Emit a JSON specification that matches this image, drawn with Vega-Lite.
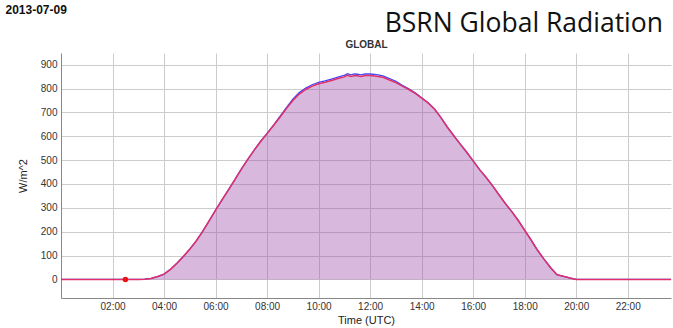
{
  "$schema": "https://vega.github.io/schema/vega-lite/v6.json",
  "width": 610,
  "height": 245,
  "autosize": "none",
  "padding": {"left": 61, "top": 53, "right": 2, "bottom": 30},
  "background": "white",
  "view": {"stroke": null},
  "config": {
    "font": "Liberation Sans",
    "axis": {"labelFont": "Liberation Sans", "titleFont": "Liberation Sans"}
  },
  "title": {
    "text": "BSRN Global Radiation",
    "anchor": "end",
    "frame": "group",
    "font": "Open Sans",
    "fontSize": 26.5,
    "fontWeight": "normal",
    "color": "#111",
    "dx": -8,
    "dy": 38,
    "offset": 4
  },
  "datasets": {
    "radiation": [
      {"h": 0, "red": 0, "blue": 0},
      {"h": 0.5, "red": 0, "blue": 0},
      {"h": 1, "red": 0, "blue": 0},
      {"h": 1.5, "red": 0, "blue": 0},
      {"h": 2, "red": 0, "blue": 0},
      {"h": 2.5, "red": 0, "blue": 0},
      {"h": 3, "red": 0, "blue": 0},
      {"h": 3.25, "red": 1, "blue": 1},
      {"h": 3.5, "red": 4, "blue": 4},
      {"h": 3.75, "red": 12, "blue": 12},
      {"h": 4.0, "red": 22, "blue": 22},
      {"h": 4.25, "red": 42, "blue": 42},
      {"h": 4.5, "red": 68, "blue": 68},
      {"h": 4.75, "red": 96, "blue": 96},
      {"h": 5.0, "red": 127, "blue": 127},
      {"h": 5.25, "red": 161, "blue": 161},
      {"h": 5.5, "red": 201, "blue": 201},
      {"h": 5.75, "red": 245, "blue": 245},
      {"h": 6.0, "red": 290, "blue": 290},
      {"h": 6.25, "red": 333, "blue": 333},
      {"h": 6.5, "red": 375, "blue": 375},
      {"h": 6.75, "red": 418, "blue": 418},
      {"h": 7.0, "red": 462, "blue": 462},
      {"h": 7.25, "red": 503, "blue": 503},
      {"h": 7.5, "red": 542, "blue": 542},
      {"h": 7.75, "red": 578, "blue": 579},
      {"h": 8.0, "red": 611, "blue": 612},
      {"h": 8.25, "red": 645, "blue": 647},
      {"h": 8.5, "red": 680, "blue": 683},
      {"h": 8.75, "red": 716, "blue": 720},
      {"h": 9.0, "red": 750, "blue": 755},
      {"h": 9.25, "red": 777, "blue": 783},
      {"h": 9.5, "red": 796, "blue": 802},
      {"h": 9.75, "red": 810, "blue": 816},
      {"h": 10.0, "red": 820, "blue": 826},
      {"h": 10.25, "red": 826, "blue": 832},
      {"h": 10.5, "red": 834, "blue": 840},
      {"h": 10.75, "red": 842, "blue": 848},
      {"h": 11.0, "red": 849, "blue": 855},
      {"h": 11.12, "red": 856, "blue": 862},
      {"h": 11.25, "red": 851, "blue": 857},
      {"h": 11.4, "red": 855, "blue": 861},
      {"h": 11.5, "red": 854, "blue": 860},
      {"h": 11.65, "red": 851, "blue": 857},
      {"h": 11.8, "red": 855, "blue": 861},
      {"h": 12.0, "red": 855, "blue": 861},
      {"h": 12.25, "red": 852, "blue": 858},
      {"h": 12.5, "red": 847, "blue": 853},
      {"h": 12.75, "red": 836, "blue": 842},
      {"h": 13.0, "red": 825, "blue": 830},
      {"h": 13.25, "red": 810, "blue": 814},
      {"h": 13.5, "red": 796, "blue": 799},
      {"h": 13.75, "red": 780, "blue": 782},
      {"h": 14.0, "red": 760, "blue": 761},
      {"h": 14.25, "red": 740, "blue": 740},
      {"h": 14.5, "red": 714, "blue": 714},
      {"h": 14.75, "red": 678, "blue": 678},
      {"h": 15.0, "red": 638, "blue": 638},
      {"h": 15.25, "red": 602, "blue": 602},
      {"h": 15.5, "red": 567, "blue": 567},
      {"h": 15.75, "red": 533, "blue": 533},
      {"h": 16.0, "red": 497, "blue": 497},
      {"h": 16.25, "red": 460, "blue": 460},
      {"h": 16.5, "red": 428, "blue": 428},
      {"h": 16.75, "red": 393, "blue": 393},
      {"h": 17.0, "red": 355, "blue": 355},
      {"h": 17.25, "red": 318, "blue": 318},
      {"h": 17.5, "red": 284, "blue": 284},
      {"h": 17.75, "red": 247, "blue": 247},
      {"h": 18.0, "red": 206, "blue": 206},
      {"h": 18.25, "red": 165, "blue": 165},
      {"h": 18.5, "red": 122, "blue": 122},
      {"h": 18.75, "red": 85, "blue": 85},
      {"h": 19.0, "red": 50, "blue": 50},
      {"h": 19.25, "red": 20, "blue": 20},
      {"h": 19.5, "red": 13, "blue": 13},
      {"h": 19.75, "red": 6, "blue": 6},
      {"h": 20.0, "red": 0, "blue": 0},
      {"h": 21.0, "red": 0, "blue": 0},
      {"h": 22.0, "red": 0, "blue": 0},
      {"h": 23.0, "red": 0, "blue": 0},
      {"h": 23.68, "red": 0, "blue": 0}
    ],
    "marker": [{"h": 2.5, "v": 0}]
  },
  "resolve": {"axis": {"x": "independent", "y": "independent"}},
  "layer": [
    {
      "data": {"name": "radiation"},
      "mark": {"type": "area", "color": "#a04dac", "opacity": 0.4, "clip": true},
      "encoding": {
        "x": {
          "field": "h",
          "type": "quantitative",
          "scale": {"domain": [0, 23.68], "nice": false, "zero": false},
          "axis": {
            "values": [2, 4, 6, 8, 10, 12, 14, 16, 18, 20, 22],
            "labelExpr": "(datum.value < 10 ? '0' : '') + datum.value + ':00'",
            "title": "Time (UTC)",
            "titleFontSize": 11,
            "titleFontWeight": "normal",
            "titleColor": "#222",
            "titlePadding": 3,
            "labelFontSize": 10,
            "labelColor": "#333",
            "labelPadding": 3,
            "ticks": false,
            "domainColor": "#888",
            "gridColor": "#cccccc",
            "gridOpacity": 1
          }
        },
        "y": {
          "field": "red",
          "type": "quantitative",
          "scale": {"domain": [-78, 949], "nice": false, "zero": false},
          "axis": {
            "values": [0, 100, 200, 300, 400, 500, 600, 700, 800, 900],
            "title": "W/m^2",
            "titleFontSize": 11,
            "titleFontWeight": "normal",
            "titleColor": "#222",
            "titlePadding": 12,
            "labelFontSize": 10,
            "labelColor": "#333",
            "labelPadding": 4,
            "ticks": false,
            "domainColor": "#888",
            "gridColor": "#cccccc",
            "gridOpacity": 1
          }
        },
        "y2": {"datum": 0}
      }
    },
    {
      "data": {"name": "radiation"},
      "mark": {"type": "line", "color": "#4545f5", "strokeWidth": 1.3},
      "encoding": {
        "x": {"field": "h", "type": "quantitative", "axis": null},
        "y": {"field": "blue", "type": "quantitative", "axis": null}
      }
    },
    {
      "data": {"name": "radiation"},
      "mark": {"type": "line", "color": "#e0306a", "strokeWidth": 1.5},
      "encoding": {
        "x": {"field": "h", "type": "quantitative", "axis": null},
        "y": {"field": "red", "type": "quantitative", "axis": null}
      }
    },
    {
      "data": {"name": "marker"},
      "mark": {"type": "point", "filled": true, "color": "#ee1111", "size": 30, "opacity": 1},
      "encoding": {
        "x": {
          "field": "h",
          "type": "quantitative",
          "axis": {
            "orient": "top",
            "labels": false,
            "ticks": false,
            "domain": false,
            "grid": false,
            "title": "GLOBAL",
            "titleFontSize": 10,
            "titleFontWeight": "bold",
            "titleColor": "#333",
            "titlePadding": 4
          }
        },
        "y": {
          "field": "v",
          "type": "quantitative",
          "axis": {
            "orient": "right",
            "labels": false,
            "ticks": false,
            "domain": false,
            "grid": false,
            "title": "2013-07-09",
            "titleAngle": 0,
            "titleAlign": "left",
            "titleBaseline": "middle",
            "titleX": -666,
            "titleY": -44,
            "titleFontSize": 12,
            "titleFontWeight": "bold",
            "titleColor": "#111"
          }
        }
      }
    }
  ]
}
